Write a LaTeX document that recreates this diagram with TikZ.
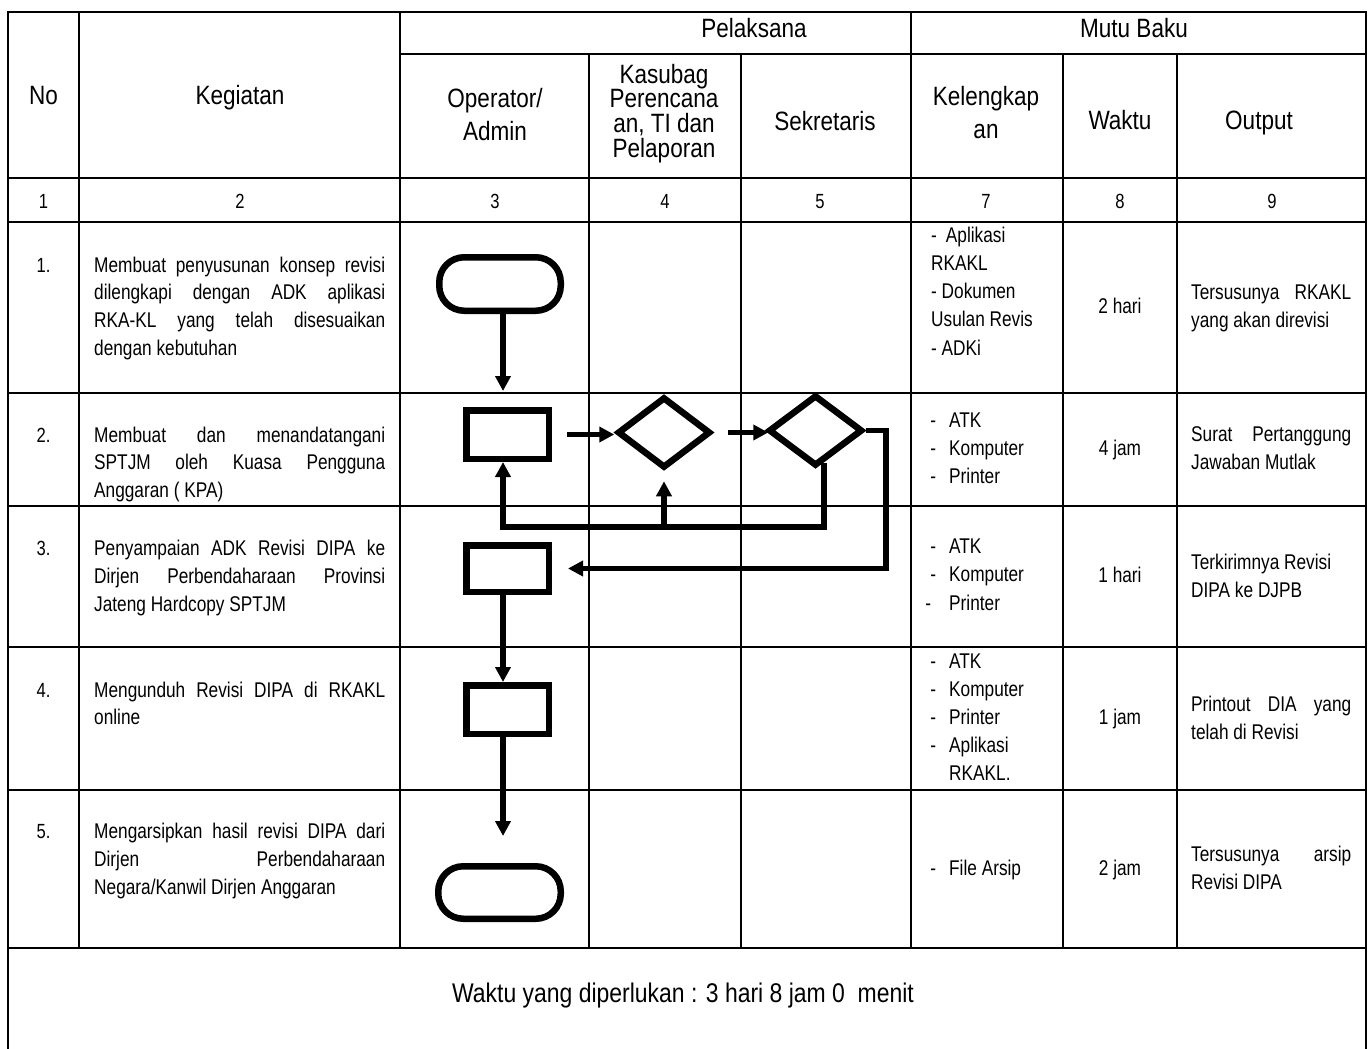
\documentclass[tikz,border=0pt]{standalone}
\usepackage{fontspec}
\setmainfont{Liberation Sans}[FakeStretch=0.85]
\newfontfamily\narrowfont{Liberation Sans}[FakeStretch=0.81]
\usetikzlibrary{arrows.meta,shapes.geometric}

\newcommand\fb{\narrowfont\fontsize{21.3bp}{27.8bp}\selectfont}
\newcommand\fh{\fontsize{26.5bp}{24.7bp}\selectfont}
\newcommand\ff{\fontsize{27bp}{30bp}\selectfont}
\newcommand\fn{\narrowfont\fontsize{20.5bp}{24bp}\selectfont}
\newcommand\jl[2]{\hbox to #1{\spaceskip=0.278em plus 1fil\relax #2}}
\newcommand\Lst[2]{\vtop{\baselineskip=#1\lineskiplimit=-1000pt\relax\halign{##\hfil\cr#2\crcr}}}
\newcommand\Cst[2]{\vtop{\baselineskip=#1\lineskiplimit=-1000pt\relax\halign{\hfil##\hfil\cr#2\crcr}}}
\newcommand\di[1]{\hbox to 12bp{\hss-\hss}\hskip 10bp #1}

\begin{document}
\begin{tikzpicture}[x=1bp,y=-1bp,
  grid/.style={line width=1.8bp, line cap=rect},
  shapeln/.style={draw, line width=6.5bp, inner sep=0pt},
  term/.style={shapeln, rectangle, rounded corners=25bp},
  procbox/.style={shapeln, rectangle, minimum width=82.5bp, minimum height=48.5bp},
  decis/.style={shapeln, diamond, minimum width=93bp, minimum height=71bp},
  conn/.style={line width=5.3bp, -{Triangle[length=15bp,width=15bp]}},
  txt/.style={inner sep=0pt, anchor=base west, font=\fb},
  ctxt/.style={inner sep=0pt, anchor=base, font=\fb},
  hd/.style={inner sep=0pt, anchor=base, font=\fh},
  num/.style={inner sep=0pt, anchor=base, font=\fn}]

\fill[white] (0,0) rectangle (1371,1048);
\useasboundingbox (0,0) rectangle (1371,1048);

% ---------- table grid ----------
\draw[grid] (8,12) -- (1366,12);
\draw[grid] (400,54) -- (1366,54);
\foreach \yy in {178,222,393,506,647,790,948} \draw[grid] (8,\yy) -- (1366,\yy);
\draw[grid] (8,12) -- (8,1048);
\draw[grid] (1366,12) -- (1366,1048);
\foreach \xx in {79,400,911} \draw[grid] (\xx,12) -- (\xx,948);
\foreach \xx in {589,741,1063,1177} \draw[grid] (\xx,54) -- (\xx,948);

% ---------- header ----------
\node[hd] (hPel) at (754,37) {Pelaksana};
\node[hd] (hMutu) at (1134,37) {Mutu Baku};
\node[hd] (hNo) at (43.5,104) {No};
\node[hd] (hKeg) at (240,104) {Kegiatan};
\node[hd] (hOp) at (495,107) {\Cst{33bp}{Operator/\cr Admin}};
\node[hd] (hKas) at (664,83) {\Cst{24.7bp}{Kasubag\cr Perencana\cr an, TI dan\cr Pelaporan}};
\node[hd] (hSek) at (825,130) {Sekretaris};
\node[hd] (hKel) at (986,105) {\Cst{33bp}{Kelengkap\cr an}};
\node[hd] (hWak) at (1120,129) {Waktu};
\node[hd] (hOut) at (1259,129) {Output};

% ---------- column numbers ----------
\node[num] (n1) at (43.5,208) {1};
\node[num] (n2) at (240,208) {2};
\node[num] (n3) at (495,208) {3};
\node[num] (n4) at (665,208) {4};
\node[num] (n5) at (820,208) {5};
\node[num] (n7) at (986,208) {7};
\node[num] (n8) at (1120,208) {8};
\node[num] (n9) at (1272,208) {9};

% ---------- row numbers ----------
\node[num] (r1) at (43.5,272) {1.};
\node[num] (r2) at (43.5,442) {2.};
\node[num] (r3) at (43.5,555) {3.};
\node[num] (r4) at (43.5,697) {4.};
\node[num] (r5) at (43.5,838) {5.};

% ---------- kegiatan ----------
\node[txt] (k1) at (94,272) {\Lst{27.8bp}{\jl{291bp}{Membuat penyusunan konsep revisi}\cr \jl{291bp}{dilengkapi dengan ADK aplikasi}\cr \jl{291bp}{RKA-KL yang telah disesuaikan}\cr dengan kebutuhan}};
\node[txt] (k2) at (94,442) {\Lst{27.8bp}{\jl{291bp}{Membuat dan menandatangani}\cr \jl{291bp}{SPTJM oleh Kuasa Pengguna}\cr Anggaran ( KPA)}};
\node[txt] (k3) at (94,555) {\Lst{28.3bp}{\jl{291bp}{Penyampaian ADK Revisi DIPA ke}\cr \jl{291bp}{Dirjen Perbendaharaan Provinsi}\cr Jateng Hardcopy SPTJM}};
\node[txt] (k4) at (94,697) {\Lst{27.8bp}{\jl{291bp}{Mengunduh Revisi DIPA di RKAKL}\cr online}};
\node[txt] (k5) at (94,838) {\Lst{28.3bp}{\jl{291bp}{Mengarsipkan hasil revisi DIPA dari}\cr \jl{291bp}{Dirjen Perbendaharaan}\cr Negara/Kanwil Dirjen Anggaran}};

% ---------- kelengkapan ----------
\node[txt] (l1) at (931,242) {\Lst{28.3bp}{-\hskip 9bp Aplikasi\cr RKAKL\cr - Dokumen\cr Usulan Revis\cr - ADKi}};
\node[txt] (l2) at (927,427) {\Lst{28bp}{\di{ATK}\cr \di{Komputer}\cr \di{Printer}}};
\node[txt] (l3) at (927,553.5) {\Lst{28.3bp}{\di{ATK}\cr \di{Komputer}\cr \hbox to 2bp{\hss-\hss}\hskip 20bp Printer}};
\node[txt] (l4) at (927,668.5) {\Lst{28bp}{\di{ATK}\cr \di{Komputer}\cr \di{Printer}\cr \di{Aplikasi}\cr \hskip 22bp RKAKL.}};
\node[txt] (l5) at (927,875) {\di{File Arsip}};

% ---------- waktu ----------
\node[ctxt] (w1) at (1120,313) {2 hari};
\node[ctxt] (w2) at (1120,455.5) {4 jam};
\node[ctxt] (w3) at (1120,582.5) {1 hari};
\node[ctxt] (w4) at (1120,724.5) {1 jam};
\node[ctxt] (w5) at (1120,875.5) {2 jam};

% ---------- output ----------
\node[txt] (o1) at (1191,299) {\Lst{28bp}{\jl{160bp}{Tersusunya RKAKL}\cr yang akan direvisi}};
\node[txt] (o2) at (1191,441.5) {\Lst{28bp}{\jl{160bp}{Surat Pertanggung}\cr Jawaban Mutlak}};
\node[txt] (o3) at (1191,569) {\Lst{28bp}{Terkirimnya Revisi\cr DIPA ke DJPB}};
\node[txt] (o4) at (1191,711) {\Lst{28bp}{\jl{160bp}{Printout DIA yang}\cr telah di Revisi}};
\node[txt] (o5) at (1191,861) {\Lst{28bp}{\jl{160bp}{Tersusunya arsip}\cr Revisi DIPA}};

% ---------- footer ----------
\node[inner sep=0pt, anchor=base, font=\ff] (foot) at (683,1002) {Waktu yang diperlukan : 3 hari 8 jam 0\ \ menit};

% ---------- flowchart ----------
\node[term, minimum width=121.5bp, minimum height=53.5bp] (st) at (500,284) {};
\node[procbox] (b2) at (507.5,434.5) {};
\node[decis] (d1) at (664,432.5) {};
\node[decis, minimum width=94bp] (d2) at (815.5,430.5) {};
\node[procbox, minimum height=46.5bp] (b3) at (507.5,568.5) {};
\node[procbox] (b4) at (507.5,709.5) {};
\node[term, minimum width=122.5bp, minimum height=52.5bp] (en) at (499.5,892.5) {};

\coordinate (ax) at (503,0);
\coordinate (lx) at (824,0);
\coordinate (ly) at (0,527);
\coordinate (rx) at (886,0);

\draw[conn, shorten >=16bp] (st.south -| ax) -- (b2.north -| ax);
\draw[conn, shorten <=15bp] (b2.east) -- (b2.east -| d1.west);
\draw[conn, shorten <=14.5bp, shorten >=-3bp] (d1.east) -- (d1.east -| d2.west);
\draw[conn, shorten <=-6bp] (d2.south -| lx) |- (ly -| ax) -- (b2.south -| ax);
\draw[conn, shorten >=10bp] (ly -| d1.south) -- (d1.south);
\draw[conn, shorten >=16bp] (d2.east) -- (d2.east -| rx) |- (b3.east);
\draw[conn] (b3.south -| ax) -- (b4.north -| ax);
\draw[conn, shorten >=27bp] (b4.south -| ax) -- (en.north -| ax);
\end{tikzpicture}
\end{document}
